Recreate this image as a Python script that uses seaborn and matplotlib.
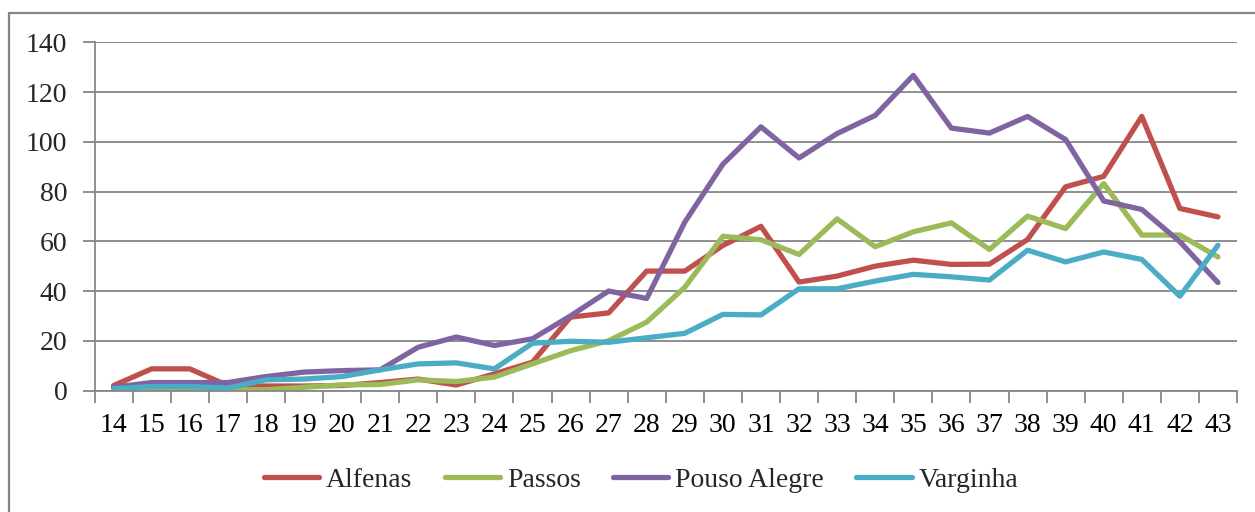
import numpy as np
import pandas as pd
import matplotlib
matplotlib.use("Agg")
import matplotlib.pyplot as plt
import seaborn as sns
from matplotlib.lines import Line2D

weeks = list(range(14, 44))
alfenas = [2, 8.7, 8.7, 2, 1.8, 1.8, 2, 3.2, 4.6, 2.2, 6.7, 11.4, 29.5, 31.2, 48, 48,
           58.3, 66, 43.6, 46, 50, 52.4, 50.7, 50.8, 60.7, 81.9, 86.1, 110.2, 73.2, 69.8]
passos = [0, 0.5, 0.8, 0.3, 0.3, 1.3, 2.3, 2.4, 4.3, 3.6, 5.4, 10.7, 16, 20, 27.5, 41.5,
          62, 60.6, 54.7, 69, 57.8, 63.8, 67.4, 56.7, 70.1, 65.1, 83.2, 62.5, 62.5, 53.7]
pouso_alegre = [1.3, 3.2, 3.2, 3.2, 5.6, 7.4, 8, 8.3, 17.4, 21.5, 18.1, 20.8, 30, 40, 37, 67.7,
                91, 106, 93.5, 103.3, 110.6, 126.7, 105.5, 103.5, 110.2, 100.9, 76.2, 72.8, 59.8, 43.4]
varginha = [0.7, 1.6, 1.6, 1, 4.3, 4.6, 5.6, 8.3, 10.7, 11.1, 8.7, 19, 19.8, 19.4, 21.2, 23,
            30.6, 30.4, 40.9, 40.9, 44, 46.7, 45.7, 44.4, 56.4, 51.7, 55.7, 52.7, 37.9, 58.4]
series_names = ["Alfenas", "Passos", "Pouso Alegre", "Varginha"]
colors = ["#C0504D", "#9BBB59", "#8064A2", "#4BACC6"]
yticks = [0, 20, 40, 60, 80, 100, 120, 140]

df = pd.concat([
    pd.DataFrame({"week": weeks, "value": vals, "city": name})
    for name, vals in zip(series_names, [alfenas, passos, pouso_alegre, varginha])
], ignore_index=True)

sns.set_theme(style="white")
plt.rcParams["font.family"] = ["Liberation Serif", "DejaVu Serif"]

W, H = 1255, 512
fig = plt.figure(figsize=(W / 100, H / 100), dpi=100)
ax = fig.add_axes([94.5 / W, 1 - 390.5 / H, (1237 - 94.5) / W, (390.5 - 42.3) / H])

sns.lineplot(data=df, x="week", y="value", hue="city", hue_order=series_names,
             palette=colors, linewidth=3.8, ax=ax, legend=False,
             solid_joinstyle="round", solid_capstyle="round")

grid_col = "#868686"
fs = 20
ax.set_xlim(13.5, 43.5)
ax.set_ylim(0, 140)
ax.set_yticks(yticks)
ax.set_yticklabels([str(v) for v in yticks])
ax.set_xticks(weeks)
ax.set_xticklabels([str(w) for w in weeks])
ax.set_xticks(np.arange(13.5, 44.0, 1.0), minor=True)
ax.yaxis.grid(True, color=grid_col, linewidth=1.3)
ax.set_axisbelow(True)
ax.tick_params(axis="x", which="major", length=0, pad=16, labelsize=fs, colors="black")
ax.tick_params(axis="x", which="minor", length=8.5, width=1.3, color=grid_col, direction="out", bottom=True)
ax.tick_params(axis="y", length=8.5, width=1.3, color=grid_col, pad=11, labelsize=fs,
               direction="out", left=True)
for s in ["top", "right"]:
    ax.spines[s].set_visible(False)
for s in ["left", "bottom"]:
    ax.spines[s].set_color(grid_col)
    ax.spines[s].set_linewidth(1.3)
ax.set_xlabel("")
ax.set_ylabel("")

handles = [Line2D([0], [0], color=c, lw=3.8, solid_capstyle="round") for c in colors]
fig.legend(handles, series_names, loc="center", bbox_to_anchor=(641 / W, 1 - 480 / H),
           ncol=4, frameon=False, fontsize=fs, handlelength=2.0, handletextpad=0.25,
           columnspacing=1.15)

# outer chart border
fig.add_artist(Line2D([9 / W, 9 / W], [0, 1 - 13 / H], transform=fig.transFigure,
                      color=grid_col, lw=1.6))
fig.add_artist(Line2D([9 / W, 1], [1 - 13 / H, 1 - 13 / H], transform=fig.transFigure,
                      color=grid_col, lw=1.6))

fig.savefig("out.png", dpi=100, facecolor="white")
